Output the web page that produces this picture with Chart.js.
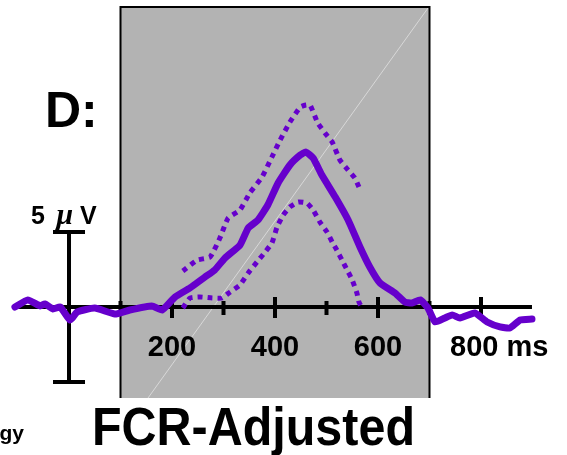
<!DOCTYPE html>
<html>
<head>
<meta charset="utf-8">
<script src="https://cdn.jsdelivr.net/npm/chart.js@4.4.1/dist/chart.umd.min.js"></script>
<style>
  html, body { margin: 0; padding: 0; background: #ffffff; }
  #wrap { position: relative; width: 567px; height: 455px; }
</style>
</head>
<body>
<div id="wrap"><canvas id="c"></canvas></div>
<script>
// ---- data (time in ms, amplitude in µV) ----
const solidMs = [-105,-80,-56,-47,-31,-17,2,16,50,89,118,161,181,206,235,264,283,303,332,348,367,386,406,429,449,460,474,491,517,542,565,584,604,633,652,666,682,697,711,730,744,759,788,812,837,856,876,899];
const solidUv = [0,0.47,0.07,0.2,-0.13,0,-0.87,-0.33,-0.07,-0.47,-0.2,0.07,-0.2,0.67,1.27,2.0,2.47,3.27,4.13,5.27,5.8,6.8,8.27,9.47,10.13,10.33,9.93,8.8,7.33,5.8,4.0,2.67,1.6,0.93,0.33,0.27,0.47,-0.07,-1.0,-0.73,-0.53,-0.73,-0.4,-1.0,-1.33,-1.4,-0.87,-0.8];
const upperMs = [221,249,274,293,309,332,351,375,394,410,429,449,460,468,483,497,511,526,542,555,563];
const upperUv = [2.4,3.13,3.33,4.6,5.93,6.47,7.6,8.67,10,11.13,12.33,13.33,13.47,13.47,12.27,11.6,11.0,9.8,9.13,8.6,8.0];
const lowerMs = [221,235,254,278,297,313,332,348,365,381,394,404,416,429,445,462,474,487,501,511,520,530,540,550,559,563,569];
const lowerUv = [-0.07,0.6,0.67,0.6,0.6,1.0,1.47,2.27,3.0,3.67,4.27,5.33,6.13,6.67,7.0,6.93,6.47,5.67,5.0,4.33,3.8,3.13,2.47,1.8,0.93,0.33,-0.07];
const tickMs = [100,200,300,400,500,600,700,800];
const tickLabels = ["","200","","400","","600","","800"];
const shadeMs = [100, 700];
const axisMs = [-105, 899];
const scaleBarMs = 0;
const scaleBarUv = 5;
const scaleBarLabel = "5";
const scaleBarUnit = "\u00b5";
const scaleBarUnit2 = "V";
const panelLabel = "D:";
const titleText = "FCR-Adjusted";
const cornerText = "gy";
const unitText = "ms";

const pts = (xs, ys) => xs.map((x, i) => ({ x: x, y: ys[i] }));
const PURPLE = '#6600cc';

const decor = {
  id: 'decor',
  beforeDatasetsDraw(chart) {
    const ctx = chart.ctx;
    const xs = chart.scales.x, ys = chart.scales.y;
    const x0 = xs.getPixelForValue(shadeMs[0]);
    const x1 = xs.getPixelForValue(shadeMs[1]);
    const top = 7, bot = 398;
    ctx.save();
    ctx.fillStyle = '#b3b3b3';
    ctx.fillRect(x0, top, x1 - x0, bot - top);
    ctx.save();
    ctx.beginPath(); ctx.rect(x0, top, x1 - x0, bot - top); ctx.clip();
    ctx.strokeStyle = '#d8d8d8'; ctx.lineWidth = 1;
    ctx.beginPath(); ctx.moveTo(148, bot); ctx.lineTo(428, top + 1); ctx.stroke();
    ctx.restore();
    ctx.strokeStyle = '#000'; ctx.lineWidth = 2;
    ctx.beginPath();
    ctx.moveTo(x0, bot); ctx.lineTo(x0, top); ctx.lineTo(x1, top); ctx.lineTo(x1, bot);
    ctx.stroke();
    const y0 = ys.getPixelForValue(0);
    ctx.lineWidth = 4;
    ctx.beginPath();
    ctx.moveTo(xs.getPixelForValue(axisMs[0]), y0);
    ctx.lineTo(xs.getPixelForValue(axisMs[1]), y0);
    ctx.stroke();
    ctx.lineWidth = 4;
    tickMs.forEach((t) => {
      const px = xs.getPixelForValue(t);
      const major = t % 200 === 0;
      ctx.beginPath();
      ctx.moveTo(px, y0 - (major ? 10 : 6));
      ctx.lineTo(px, y0 + (major ? 11 : 8));
      ctx.stroke();
    });
    ctx.fillStyle = '#000';
    ctx.font = 'bold 29px "Liberation Sans", Arial, sans-serif';
    ctx.textBaseline = 'alphabetic';
    tickMs.forEach((t, i) => {
      const lab = tickLabels[i];
      if (!lab) return;
      const px = xs.getPixelForValue(t);
      if (i === tickMs.length - 1) {
        ctx.textAlign = 'left';
        const w = ctx.measureText(lab).width;
        ctx.fillText(lab, px - 31, 356);
        ctx.fillText(unitText, px - 31 + w + 8, 356);
      } else {
        ctx.textAlign = 'center';
        ctx.fillText(lab, px, 356);
      }
    });
    const bx = xs.getPixelForValue(scaleBarMs);
    const byT = ys.getPixelForValue(scaleBarUv);
    const byB = ys.getPixelForValue(-scaleBarUv);
    ctx.lineWidth = 4;
    ctx.beginPath();
    ctx.moveTo(bx, byT); ctx.lineTo(bx, byB);
    ctx.moveTo(bx - 16, byT); ctx.lineTo(bx + 16, byT);
    ctx.moveTo(bx - 16, byB); ctx.lineTo(bx + 16, byB);
    ctx.stroke();
    ctx.textAlign = 'left';
    ctx.font = 'bold 25px "Liberation Sans", Arial, sans-serif';
    ctx.fillText(scaleBarLabel, 31, 224);
    ctx.font = 'italic bold 30px "Liberation Serif", serif';
    ctx.fillText(scaleBarUnit, 56, 224);
    ctx.font = 'bold 25px "Liberation Sans", Arial, sans-serif';
    ctx.fillText(scaleBarUnit2, 80, 224);
    ctx.font = 'bold 50px "Liberation Sans", Arial, sans-serif';
    ctx.fillText(panelLabel, 45, 127);
    ctx.textAlign = 'right';
    ctx.font = 'bold 21px "Liberation Sans", Arial, sans-serif';
    ctx.fillText(cornerText, 24, 440);
    ctx.font = 'bold 53px "Liberation Sans", Arial, sans-serif';
    const tw = ctx.measureText(titleText).width;
    const target = 323;
    ctx.save();
    ctx.translate(92, 445);
    ctx.scale(target / tw, 1);
    ctx.textAlign = 'left';
    ctx.fillText(titleText, 0, 0);
    ctx.restore();
    ctx.restore();
  }
};

new Chart(document.getElementById('c'), {
  type: 'line',
  data: {
    datasets: [
      { data: pts(upperMs, upperUv), borderColor: PURPLE, borderWidth: 5, borderDash: [5, 5], pointRadius: 0, tension: 0.15, fill: false },
      { data: pts(lowerMs, lowerUv), borderColor: PURPLE, borderWidth: 5, borderDash: [5, 5], pointRadius: 0, tension: 0.15, fill: false },
      { data: pts(solidMs, solidUv), borderColor: PURPLE, borderWidth: 7, pointRadius: 0, tension: 0.15, fill: false, borderJoinStyle: 'round', borderCapStyle: 'round' }
    ]
  },
  options: {
    responsive: true,
    maintainAspectRatio: false,
    animation: false,
    layout: { padding: 0 },
    plugins: { legend: { display: false }, tooltip: { enabled: false }, title: { display: false } },
    scales: {
      x: { type: 'linear', min: -134, max: 967, display: false },
      y: { type: 'linear', min: -9.867, max: 20.467, display: false }
    }
  },
  plugins: [decor]
});
</script>
</body>
</html>
